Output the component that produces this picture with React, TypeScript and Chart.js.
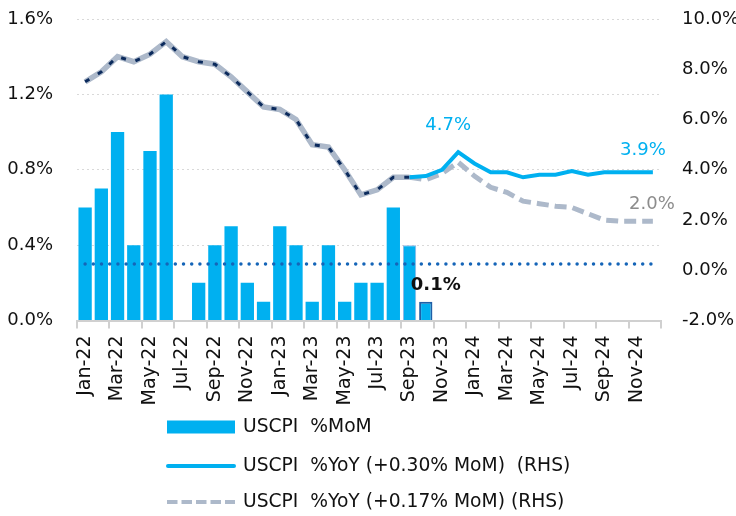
import React, { useEffect, useRef } from 'react';
import { Chart, registerables } from 'chart.js';

Chart.register(...registerables);

const categories = [
  'Jan-22', 'Feb-22', 'Mar-22', 'Apr-22', 'May-22', 'Jun-22', 'Jul-22', 'Aug-22', 'Sep-22', 'Oct-22', 'Nov-22', 'Dec-22',
  'Jan-23', 'Feb-23', 'Mar-23', 'Apr-23', 'May-23', 'Jun-23', 'Jul-23', 'Aug-23', 'Sep-23', 'Oct-23', 'Nov-23', 'Dec-23',
  'Jan-24', 'Feb-24', 'Mar-24', 'Apr-24', 'May-24', 'Jun-24', 'Jul-24', 'Aug-24', 'Sep-24', 'Oct-24', 'Nov-24', 'Dec-24',
];

// USCPI %MoM (LHS)
const momValues = [
  0.6, 0.7, 1.0, 0.4, 0.9, 1.2, 0.0, 0.2, 0.4, 0.5, 0.2, 0.1,
  0.5, 0.4, 0.1, 0.4, 0.1, 0.2, 0.2, 0.6, 0.4, 0.1, null, null,
  null, null, null, null, null, null, null, null, null, null, null, null,
];

// 0.30% MoM reference (LHS, dotted)
const momReference = [
  0.3, 0.3, 0.3, 0.3, 0.3, 0.3, 0.3, 0.3, 0.3, 0.3, 0.3, 0.3,
  0.3, 0.3, 0.3, 0.3, 0.3, 0.3, 0.3, 0.3, 0.3, 0.3, 0.3, 0.3,
  0.3, 0.3, 0.3, 0.3, 0.3, 0.3, 0.3, 0.3, 0.3, 0.3, 0.3, 0.3,
];

// Actual USCPI %YoY (RHS)
const yoyActual = [
  7.5, 7.9, 8.5, 8.3, 8.6, 9.1, 8.5, 8.3, 8.2, 7.7, 7.1, 6.5,
  6.4, 6.0, 5.0, 4.9, 4.0, 3.0, 3.2, 3.7, 3.7, null, null, null,
  null, null, null, null, null, null, null, null, null, null, null, null,
];

// USCPI %YoY (+0.30% MoM) (RHS)
const yoyPath030 = [
  null, null, null, null, null, null, null, null, null, null, null, null,
  null, null, null, null, null, null, null, null, 3.7, 3.75, 4.0, 4.7,
  4.25, 3.9, 3.9, 3.7, 3.8, 3.8, 3.95, 3.8, 3.9, 3.9, 3.9, 3.9,
];

// USCPI %YoY (+0.17% MoM) (RHS)
const yoyPath017 = [
  null, null, null, null, null, null, null, null, null, null, null, null,
  null, null, null, null, null, null, null, null, 3.7, 3.6, 3.85, 4.3,
  3.75, 3.3, 3.1, 2.75, 2.65, 2.55, 2.5, 2.25, 2.0, 1.95, 1.95, 1.95,
];

const leftTicks = [0, 0.4, 0.8, 1.2, 1.6];
const rightTicks = [-2, 0, 2, 4, 6, 8, 10];

const legendLabels = [
  'USCPI  %MoM',
  'USCPI  %YoY (+0.30% MoM)  (RHS)',
  'USCPI  %YoY (+0.17% MoM) (RHS)',
];

const pointLabels = [
  { datasetId: 'path030', index: 23, text: '4.7%', color: '#00B0F0', bold: false, dx: -10, dy: -27 },
  { datasetId: 'path030', index: 35, text: '3.9%', color: '#00B0F0', bold: false, dx: -10, dy: -22 },
  { datasetId: 'path017', index: 35, text: '2.0%', color: '#8C8C8C', bold: false, dx: -1, dy: -17 },
  { datasetId: 'mom', index: 21, text: '0.1%', color: '#111111', bold: true, dx: 10, dy: -16 },
];

const FONT = "'DejaVu Sans', sans-serif";
const CYAN = '#00B0F0';
const GREY = '#ADB9CA';
const NAVY = '#0B2A5C';

const labelsPlugin = {
  id: 'pointLabels',
  afterDatasetsDraw(chart: any) {
    const ctx = chart.ctx;
    ctx.save();
    ctx.textAlign = 'center';
    ctx.textBaseline = 'middle';
    for (const p of pointLabels) {
      const dsIndex = chart.data.datasets.findIndex((d: any) => d.id === p.datasetId);
      if (dsIndex < 0) continue;
      const el = chart.getDatasetMeta(dsIndex).data[p.index];
      if (!el) continue;
      ctx.font = `${p.bold ? 'bold ' : ''}18px ${FONT}`;
      ctx.fillStyle = p.color;
      ctx.fillText(p.text, el.x + p.dx, el.y + p.dy);
    }
    ctx.restore();
  },
};

const legendPlugin = {
  id: 'customLegend',
  afterDraw(chart: any) {
    const ctx = chart.ctx;
    const area = chart.chartArea;
    const x0 = area.left + 90;
    const symW = 68;
    const textX = x0 + 76;
    const rows = [area.bottom + 106.5, area.bottom + 145.5, area.bottom + 181.5];
    ctx.save();
    ctx.fillStyle = CYAN;
    ctx.fillRect(x0, rows[0] - 6.5, symW, 13);
    ctx.strokeStyle = CYAN;
    ctx.lineWidth = 4;
    ctx.lineCap = 'round';
    ctx.beginPath();
    ctx.moveTo(x0 + 1, rows[1]);
    ctx.lineTo(x0 + symW - 1, rows[1]);
    ctx.stroke();
    ctx.strokeStyle = GREY;
    ctx.lineWidth = 4;
    ctx.lineCap = 'butt';
    ctx.setLineDash([10.5, 4]);
    ctx.beginPath();
    ctx.moveTo(x0, rows[2]);
    ctx.lineTo(x0 + symW, rows[2]);
    ctx.stroke();
    ctx.setLineDash([]);
    ctx.fillStyle = '#111111';
    ctx.font = `18.7px ${FONT}`;
    ctx.textAlign = 'left';
    ctx.textBaseline = 'middle';
    legendLabels.forEach((t, i) => ctx.fillText(t, textX, rows[i]));
    ctx.restore();
  },
};

export default function App() {
  const ref = useRef<HTMLCanvasElement>(null);
  useEffect(() => {
    if (!ref.current) return;
    const barBorders = momValues.map((_, i) => (i === 21 ? '#1F5FA6' : i === 20 ? '#8DB3E2' : CYAN));
    const barBorderWidths = momValues.map((_, i) => (i === 21 ? 2 : i === 20 ? 1 : 0));
    const vFit = (w: number) => (s: any) => {
      s.width = w;
      s.paddingTop = 8;
      s.paddingBottom = 8;
    };
    const chart = new Chart(ref.current, {
      type: 'bar',
      data: {
        labels: categories,
        datasets: [
          {
            id: 'mom',
            type: 'bar',
            label: legendLabels[0],
            data: momValues,
            yAxisID: 'y',
            backgroundColor: CYAN,
            borderColor: barBorders,
            borderWidth: barBorderWidths,
            barPercentage: 0.82,
            categoryPercentage: 1,
            order: 10,
          },
          {
            id: 'momRef',
            type: 'line',
            label: '0.30% MoM',
            data: momReference,
            yAxisID: 'y',
            borderColor: '#1565B8',
            borderWidth: 3.5,
            borderDash: [0, 8.2],
            borderCapStyle: 'round',
            pointRadius: 0,
            fill: false,
            order: 5,
          },
          {
            id: 'actualShadow',
            type: 'line',
            label: 'actual',
            data: yoyActual,
            yAxisID: 'y1',
            borderColor: GREY,
            borderWidth: 5.5,
            pointRadius: 0,
            fill: false,
            order: 4,
          },
          {
            id: 'path017',
            type: 'line',
            label: legendLabels[2],
            data: yoyPath017,
            yAxisID: 'y1',
            borderColor: GREY,
            borderWidth: 5,
            borderDash: [12, 6],
            pointRadius: 0,
            fill: false,
            order: 4,
          },
          {
            id: 'actual',
            type: 'line',
            label: 'actual dashed',
            data: yoyActual,
            yAxisID: 'y1',
            borderColor: NAVY,
            borderWidth: 3,
            borderDash: [5, 10],
            pointRadius: 0,
            fill: false,
            order: 3,
          },
          {
            id: 'path030',
            type: 'line',
            label: legendLabels[1],
            data: yoyPath030,
            yAxisID: 'y1',
            borderColor: CYAN,
            borderWidth: 4,
            pointRadius: 0,
            fill: false,
            order: 2,
          },
        ] as any,
      },
      options: {
        responsive: false,
        devicePixelRatio: 1,
        animation: false,
        layout: { padding: { top: 19, bottom: 105.5, left: 0, right: 0 } },
        plugins: {
          legend: { display: false },
          tooltip: { enabled: false },
        },
        scales: {
          x: {
            type: 'category',
            offset: true,
            grid: {
              offset: true,
              drawOnChartArea: false,
              drawTicks: true,
              tickLength: 8,
              lineWidth: 2,
              color: (c: any) => (c.type !== 'tick' || c.index % 2 === 0 ? '#D0D0D0' : 'rgba(0,0,0,0)'),
            },
            border: { display: true, color: '#D0D0D0', width: 2 },
            ticks: {
              autoSkip: false,
              maxRotation: 90,
              minRotation: 90,
              padding: 7,
              color: '#111111',
              font: { family: FONT, size: 19 },
              callback: (_v: any, i: number) => (i % 2 === 0 ? categories[i] : ''),
            },
            afterFit: (s: any) => {
              s.height = 90;
              s.paddingLeft = 0;
              s.paddingRight = 0;
            },
          },
          y: {
            position: 'left',
            min: leftTicks[0],
            max: leftTicks[leftTicks.length - 1],
            afterBuildTicks: (s: any) => {
              s.ticks = leftTicks.map((v) => ({ value: v }));
            },
            ticks: {
              padding: 24,
              color: '#111111',
              font: { family: FONT, size: 18 },
              callback: (v: any) => Number(v).toFixed(1) + '%',
            },
            grid: { color: '#D9D9D9', drawTicks: false, lineWidth: 1 },
            border: { display: false, dash: [2, 3] },
            afterFit: vFit(77),
          },
          y1: {
            position: 'right',
            min: rightTicks[0],
            max: rightTicks[rightTicks.length - 1],
            afterBuildTicks: (s: any) => {
              s.ticks = rightTicks.map((v) => ({ value: v }));
            },
            ticks: {
              padding: 21,
              color: '#111111',
              font: { family: FONT, size: 18 },
              callback: (v: any) => Number(v).toFixed(1) + '%',
            },
            grid: { drawOnChartArea: false, drawTicks: false },
            border: { display: false },
            afterFit: vFit(75),
          },
        },
      } as any,
      plugins: [labelsPlugin, legendPlugin],
    });
    return () => chart.destroy();
  }, []);
  return (
    <div style={{ position: 'absolute', left: 0, top: 0, width: 736, height: 516, background: '#fff' }}>
      <canvas ref={ref} width={736} height={516} style={{ display: 'block', width: 736, height: 516 }} />
    </div>
  );
}
